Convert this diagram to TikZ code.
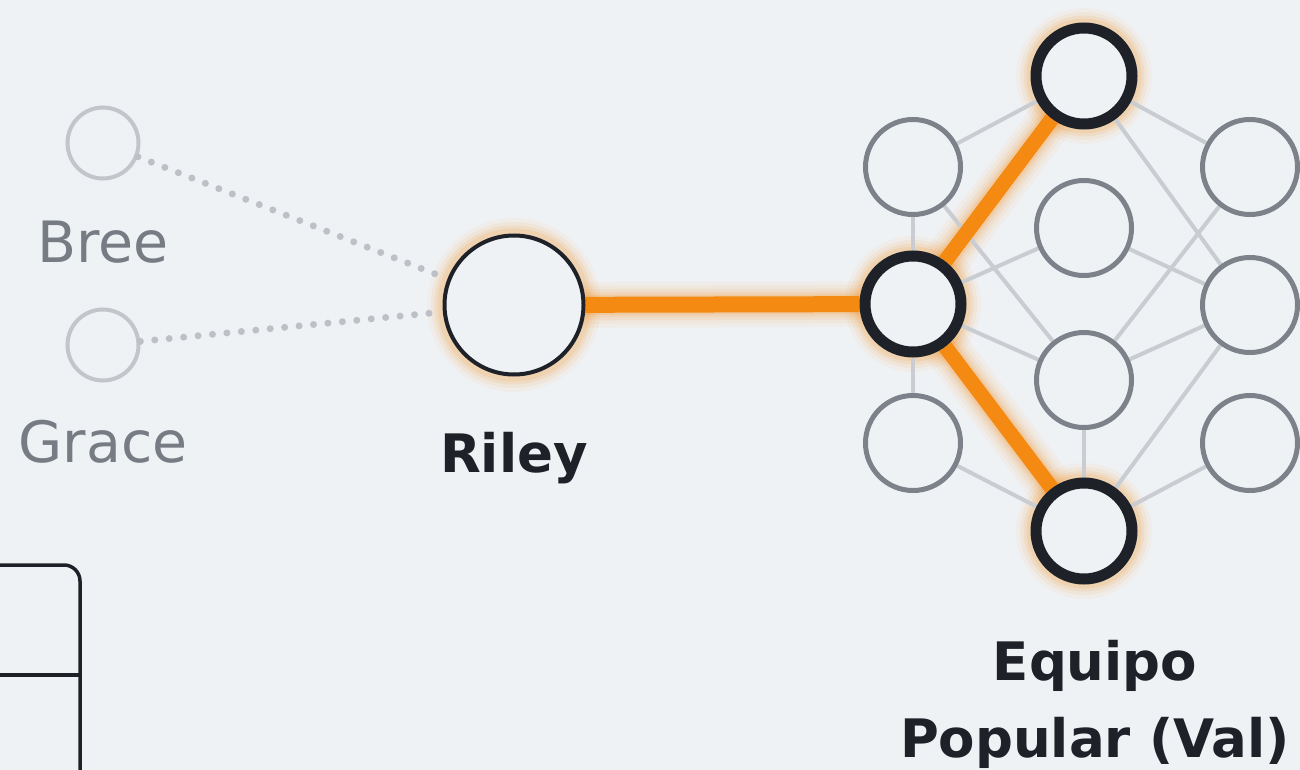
\documentclass[tikz,border=0pt]{standalone}
\usepackage{fontspec}
\setmainfont{DejaVu Sans}
\usetikzlibrary{backgrounds}
\pgfdeclarelayer{canvas}
\pgfsetlayers{canvas,background,main}
\definecolor{bg}{HTML}{EFF2F5}
\definecolor{orng}{HTML}{F48A12}
\definecolor{dark}{HTML}{1E2228}
\definecolor{gnode}{HTML}{7D828A}
\definecolor{gedge}{HTML}{C9CCD1}
\definecolor{faint}{HTML}{C2C5CA}
\definecolor{faintdot}{HTML}{BDC0C5}
\definecolor{labelgray}{HTML}{777B83}
\tikzset{
  graynode/.style={circle, draw=gnode, line width=5pt, fill=bg, minimum size=95pt, inner sep=0pt},
  hotnode/.style={circle, draw=dark, line width=11pt, fill=bg, minimum size=96pt, inner sep=0pt},
  rileynode/.style={circle, draw=dark, line width=4pt, fill=bg, minimum size=139pt, inner sep=0pt},
  faintnode/.style={circle, draw=faint, line width=4pt, fill=bg, minimum size=71pt, inner sep=0pt},
  grayedge/.style={draw=gedge, line width=4pt},
  hotedge/.style={draw=orng, line width=15pt},
  dotedge/.style={draw=faintdot, line width=7pt, line cap=round, dash pattern=on 0pt off 14.5pt},
  lbl/.style={font=\fontsize{57}{60}\selectfont, text=labelgray, anchor=base, inner sep=0pt},
  boldlbl/.style={font=\fontsize{53}{77}\selectfont\bfseries, text=dark, anchor=base, inner sep=0pt, align=center},
  boxline/.style={draw=dark, line width=3.5pt}
}
\begin{document}
\begin{tikzpicture}[x=1pt,y=-1pt]
\useasboundingbox (0,0) rectangle (1300,770);
\begin{pgfonlayer}{canvas}
\fill[bg] (0,0) rectangle (1300,770);
\end{pgfonlayer}
\clip (0,0) rectangle (1300,770);

% network nodes
\node[graynode] (L1) at (913,167) {};
\node[hotnode]  (H)  at (913,304) {};
\node[graynode] (L3) at (913,443) {};
\node[hotnode]  (T)  at (1084,76) {};
\node[graynode] (M1) at (1084,228) {};
\node[graynode] (M2) at (1084,380) {};
\node[hotnode]  (B)  at (1084,531) {};
\node[graynode] (R1) at (1250,167) {};
\node[graynode] (R2) at (1250,305) {};
\node[graynode] (R3) at (1250,443) {};

% people
\node[rileynode] (Ri) at (514,305) {};
\node[faintnode] (Br) at (103,143) {};
\node[faintnode] (Gr) at (103,345) {};

% labels
\node[lbl] (BrL) at (103,262) {Bree};
\node[lbl] (GrL) at (103,462) {Grace};
\node[boldlbl] (RiL) at (514,472) {Riley};
\node[boldlbl] (EqL) at (1095,757) {Equipo\\Popular (Val)};

\begin{pgfonlayer}{background}
  % glows
  \foreach \w/\o in {46/0.05,38/0.06,31/0.08,25/0.10,20/0.12} {
    \draw[orng, line width=\w pt, opacity=\o] (Ri.center) -- (H.center);
    \draw[orng, line width=\w pt, opacity=\o] (H.center) -- (T.center);
    \draw[orng, line width=\w pt, opacity=\o] (H.center) -- (B.center);
  }
  \foreach \w/\o in {34/0.05,26/0.07,19/0.09,13/0.12} {
    \draw[orng, line width=\w pt, opacity=\o] (Ri.center) circle[radius=70pt];
  }
  \foreach \w/\o in {40/0.05,32/0.07,25/0.09,19/0.12} {
    \draw[orng, line width=\w pt, opacity=\o] (H.center) circle[radius=48pt];
    \draw[orng, line width=\w pt, opacity=\o] (T.center) circle[radius=48pt];
    \draw[orng, line width=\w pt, opacity=\o] (B.center) circle[radius=48pt];
  }
  % gray connectors
  \foreach \a/\b in {L1/T, T/R1, T/R2, L1/H, L1/M2, H/M1, H/M2, H/L3, M1/R2, R1/M2, M2/R2, M2/B, R2/B, L3/B, R3/B} {
    \draw[grayedge] (\a) -- (\b);
  }
  % highlighted connectors
  \draw[hotedge, line width=16pt] (Ri) -- (H);
  \draw[hotedge] (H) -- (T);
  \draw[hotedge] (H) -- (B);
\end{pgfonlayer}

% dotted links
\draw[dotedge] (Br) -- (Ri);
\draw[dotedge] (Gr) -- (Ri);

% partial box at lower left
\coordinate (boxTL) at (-30,565);
\coordinate (boxTR) at (80,565);
\coordinate (boxBR) at (80,800);
\coordinate (divL) at (-5,675);
\coordinate (divR) at (80,675);
\draw[boxline, rounded corners=16pt] (boxTL) -- (boxTR) -- (boxBR);
\draw[boxline] (divL) -- (divR);
\end{tikzpicture}
\end{document}
